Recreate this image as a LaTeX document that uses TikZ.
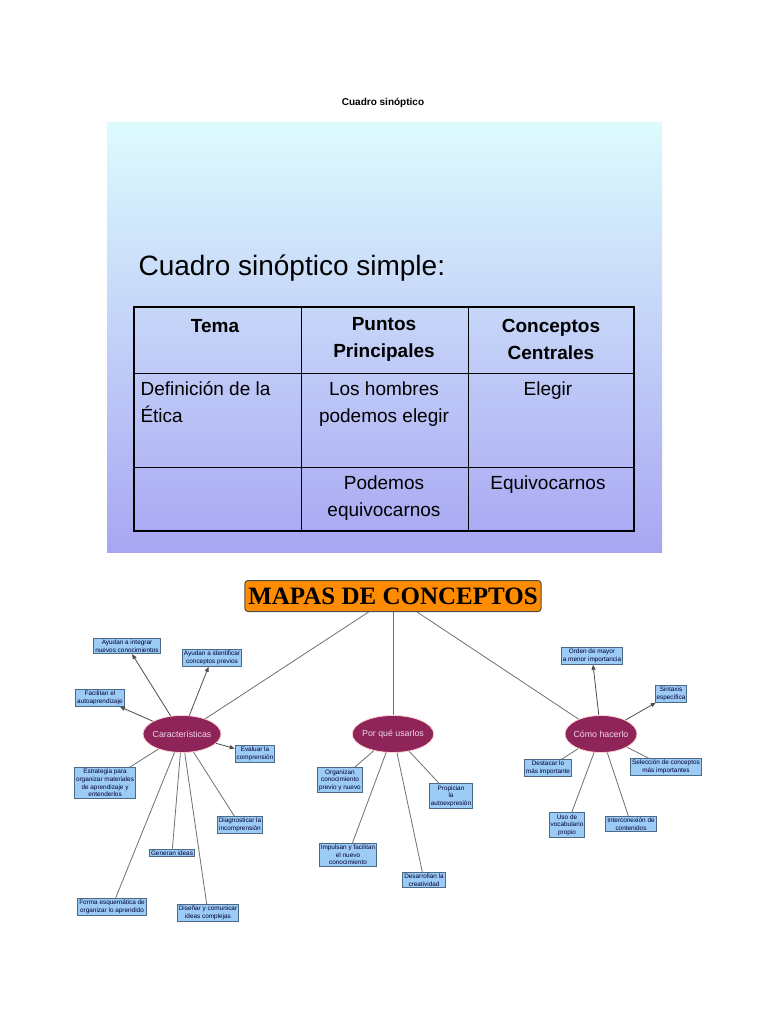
\documentclass[tikz,border=0pt]{standalone}
\usepackage{fontspec}
\setmainfont{Liberation Sans}
\newfontfamily\serifb{Liberation Serif}
\usetikzlibrary{shapes.geometric,arrows.meta}
\definecolor{boxfill}{HTML}{9CCBF5}
\definecolor{boxline}{HTML}{4A6A85}
\definecolor{elfill}{HTML}{8E2457}
\definecolor{eltext}{HTML}{F0D8E8}
\definecolor{conn}{HTML}{707070}
\definecolor{slidetop}{HTML}{DDFBFD}
\definecolor{slidebot}{HTML}{A8A6F2}
\begin{document}
\begin{tikzpicture}[x=1pt,y=-1pt,
 bx/.style={draw=boxline,line width=0.9pt,fill=boxfill,inner sep=1.5pt,align=center,font=\fontsize{6.4}{7.6}\selectfont,text=black!80!blue},
 el/.style={ellipse,draw=pink!70!white,line width=0.8pt,fill=elfill,text=eltext,minimum width=78pt,minimum height=37pt,inner sep=-2pt,font=\fontsize{8.8}{10}\selectfont},
 ln/.style={draw=conn,line width=0.8pt},
 ar/.style={ln,-{Triangle[length=5pt,width=4pt]},draw=black!70},
 tt/.style={font=\fontsize{19}{23}\selectfont,align=center}]
\useasboundingbox (0,0) rectangle (768,1024);
\fill[white] (0,0) rectangle (768,1024);
\node[font=\bfseries\fontsize{10}{12}\selectfont] (top) at (383,103) {Cuadro sinóptico};
% slide
\shade[top color=slidetop,bottom color=slidebot] (107,123) rectangle (662,552);
\node[anchor=west,font=\fontsize{28}{32}\selectfont] (st) at (135,268) {Cuadro sinóptico simple:};
\draw[line width=1.2pt] (134,307) rectangle (634,531);
\draw[line width=1pt] (301,307) -- (301,531) (468,307) -- (468,531) (134,373) -- (634,373) (134,467) -- (634,467);
\node[tt,font=\bfseries\fontsize{19}{27}\selectfont] (h1) at (215,326) {Tema};
\node[tt,font=\bfseries\fontsize{19}{27}\selectfont] (h2) at (384,339) {Puntos\\Principales};
\node[tt,font=\bfseries\fontsize{19}{27}\selectfont] (h3) at (551,339) {Conceptos\\Centrales};
\node[tt,align=left,anchor=north west,font=\fontsize{19}{27}\selectfont] (c1) at (137,378) {Definición de la\\Ética};
\node[tt,anchor=north,font=\fontsize{19}{27}\selectfont] (c2) at (384,378) {Los hombres\\podemos elegir};
\node[tt,anchor=north,font=\fontsize{19}{27}\selectfont] (c3) at (548,378) {Elegir};
\node[tt,anchor=north,font=\fontsize{19}{27}\selectfont] (c4) at (384,472) {Podemos\\equivocarnos};
\node[tt,anchor=north,font=\fontsize{19}{27}\selectfont] (c5) at (548,472) {Equivocarnos};
% concept map
\node[draw=black!70,line width=1pt,rounded corners=3pt,fill=orange!90!yellow,minimum width=292pt,minimum height=31pt,font=\serifb\bfseries\fontsize{25}{28}\selectfont] (T) at (393,596) {MAPAS DE CONCEPTOS};
\node[el] (E1) at (182,734) {Características};
\node[el] (E2) at (393,734) {Por qué usarlos};
\node[el,minimum width=72pt] (E3) at (601,734) {Cómo hacerlo};
\draw[ln] (T) -- (E1); \draw[ln] (T) -- (E2); \draw[ln] (T) -- (E3);
% boxes E1
\node[bx] (a1) at (127,646) {Ayudan a integrar\\nuevos conocimientos};
\node[bx] (a2) at (212,658) {Ayudan a identificar\\conceptos previos};
\node[bx] (a3) at (100,698) {Facilitan el\\autoaprendizaje};
\node[bx] (a4) at (255,754) {Evaluar la\\comprensión};
\node[bx] (a5) at (105,783) {Estrategia para\\organizar materiales\\de aprendizaje y\\entenderlos};
\node[bx] (a6) at (240,825) {Diagnosticar la\\incomprensión};
\node[bx] (a7) at (172,853) {Generan ideas};
\node[bx] (a8) at (112,907) {Forma esquemática de\\organizar lo aprendido};
\node[bx] (a9) at (208,913) {Diseñar y comunicar\\ideas complejas};
\draw[ar] (E1) -- (a1); \draw[ar] (E1) -- (a2); \draw[ar] (E1) -- (a3); \draw[ar] (E1) -- (a4);
\foreach \b in {a5,a6,a7,a8,a9} \draw[ln] (E1) -- (\b);
% boxes E2
\node[bx] (b1) at (340,780) {Organizan\\conocimiento\\previo y nuevo};
\node[bx] (b2) at (348,855) {Impulsan y facilitan\\el nuevo\\conocimiento};
\node[bx] (b3) at (424,880) {Desarrollan la\\creatividad};
\node[bx] (b4) at (451,796) {Propician\\la\\autoexpresión};
\foreach \b in {b1,b2,b3,b4} \draw[ln] (E2) -- (\b);
% boxes E3
\node[bx] (d1) at (592,656) {Orden de mayor\\a menor importancia};
\node[bx] (d2) at (671,694) {Sintaxis\\específica};
\node[bx] (d3) at (548,768) {Destacar lo\\más importante};
\node[bx] (d4) at (666,767) {Selección de conceptos\\más importantes};
\node[bx] (d5) at (567,825) {Uso de\\vocabulario\\propio};
\node[bx] (d6) at (631,824) {Interconexión de\\contenidos};
\draw[ar] (E3) -- (d1); \draw[ar] (E3) -- (d2);
\foreach \b in {d3,d4,d5,d6} \draw[ln] (E3) -- (\b);
\end{tikzpicture}
\end{document}
